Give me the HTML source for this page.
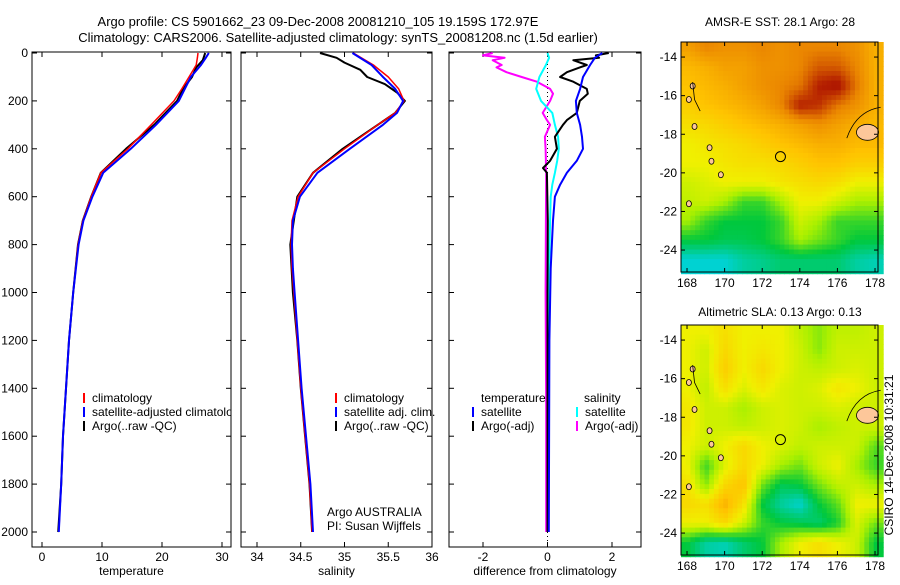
<!DOCTYPE html>
<html><head><meta charset="utf-8"><style>
html,body{margin:0;padding:0;background:#fff;}
svg text{font-family:"Liberation Sans",sans-serif;font-size:12px;fill:#000;}
</style></head><body>
<svg id="fig" width="900" height="580" viewBox="0 0 900 580" xmlns="http://www.w3.org/2000/svg">
<text x="318" y="26" text-anchor="middle" style="font-size:13px">Argo profile: CS 5901662_23 09-Dec-2008 20081210_105 19.159S 172.97E</text>
<text x="338" y="42" text-anchor="middle" style="font-size:13px">Climatology: CARS2006. Satellite-adjusted climatology: synTS_20081208.nc (1.5d earlier)</text>
<text x="780" y="26" text-anchor="middle">AMSR-E SST: 28.1 Argo: 28</text>
<text x="780" y="316" text-anchor="middle">Altimetric SLA: 0.13 Argo: 0.13</text>
<text transform="translate(893,455) rotate(-90)" text-anchor="middle">CSIRO 14-Dec-2008 10:31:21</text>
<g id="plots"></g>
</svg>
<script>
// ---- depth (shared y) ----
const depthTicks=[0,200,400,600,800,1000,1200,1400,1600,1800,2000];
// ---- temperature panel ----
const tDepth=[0,20,50,100,150,200,300,400,500,600,700,800,1000,1200,1400,1600,1800,2000];
const tClim=[26,25.9,25.7,24.5,23.3,22,18.2,14.3,9.8,8.2,6.8,6,5.2,4.5,4,3.5,3.2,2.8];
const tSat=[27.8,27.3,26.5,24.8,23.8,22.8,19,14.8,10.2,8.4,6.9,6.1,5.2,4.5,4,3.5,3.2,2.8];
const tArgoDepth=[0,30,60,100,150,200,300,400,500,600,700,800,1000,1200,1400,1600,1800,2000];
const tArgo=[27.2,26.8,25.7,25,23.5,22.5,18.7,14,9.8,8.2,6.8,6,5.2,4.5,4,3.5,3.2,2.7];
const tTicks=[0,10,20,30];
// ---- salinity panel ----
const sDepth=[0,50,100,150,200,250,300,400,500,600,700,800,900,1000,1200,1400,1600,1800,2000];
const sClim=[35.1,35.33,35.5,35.62,35.68,35.58,35.38,35.0,34.64,34.47,34.4,34.39,34.4,34.42,34.46,34.5,34.55,34.6,34.63];
const sSat=[35.09,35.31,35.44,35.58,35.67,35.6,35.44,35.06,34.69,34.49,34.41,34.4,34.41,34.43,34.47,34.51,34.56,34.61,34.64];
const sArgoDepth=[0,20,40,70,100,130,165,200,250,300,400,500,600,800,1000,1200,1400,1600,1800,2000];
const sArgo=[34.72,34.91,35.0,35.18,35.26,35.46,35.6,35.69,35.58,35.38,34.98,34.64,34.46,34.38,34.41,34.46,34.5,34.55,34.6,34.63];
const sTicks=[34,34.5,35,35.5,36];
// ---- difference panel ----
const dDepth=[0,20,50,100,150,200,250,300,350,400,450,500,550,600,700,900,1200,1600,2000];
const dTempSat=[1.7,1.47,1.32,1.1,1.01,0.88,0.91,1.01,1.07,1.1,0.91,0.6,0.39,0.23,0.17,0.1,0.06,0.05,0.04];
const dSalSat=[0,0.05,-0.05,-0.25,-0.35,-0.2,0.15,0.23,0.33,0.35,0.3,0.23,0.15,0.1,0.08,0.05,0.03,0.02,0.02];
const dArgoDepth=[0,10,20,30,50,60,80,100,120,150,170,200,250,280,300,350,400,450,480,500,700,1000,1500,2000];
const dTempArgo=[1.9,1.5,1.6,0.8,1.22,1.0,0.6,0.39,0.8,1.22,1.25,1.0,0.91,0.6,0.48,0.23,0.29,0.08,-0.14,-0.02,0.01,0,0,0];
const dSalArgo=[-1.7,-2.0,-1.33,-1.7,-1.42,-1.58,-1.27,-0.8,-0.33,0.08,0.17,0.08,-0.15,-0.02,0.08,-0.08,-0.06,-0.05,-0.05,-0.04,-0.05,-0.06,-0.04,-0.04];
const dTicks=[-2,0,2];
// ---- maps (grid values, colour index 0..1; rows lat -13.5..-24.5, cols lon 168..178) ----
const sstGrid=[
[.75,.8,.78,.78,.8,.78,.8,.8,.8,.78,.72],
[.7,.72,.75,.75,.78,.78,.8,.85,.85,.8,.72],
[.68,.7,.72,.75,.78,.8,.82,.92,.95,.82,.72],
[.65,.68,.7,.72,.75,.8,.92,.9,.82,.78,.72],
[.6,.62,.65,.68,.7,.72,.75,.78,.75,.72,.7],
[.55,.58,.6,.62,.65,.68,.7,.72,.72,.7,.7],
[.55,.55,.58,.6,.6,.62,.65,.68,.68,.65,.65],
[.5,.52,.55,.55,.55,.58,.6,.62,.6,.55,.55],
[.48,.5,.45,.35,.35,.45,.55,.55,.5,.45,.45],
[.45,.35,.3,.3,.3,.35,.5,.45,.35,.35,.35],
[.3,.3,.28,.28,.3,.35,.45,.4,.35,.3,.3],
[.15,.15,.15,.2,.22,.25,.25,.25,.25,.2,.18]];
const slaGrid=[
[.55,.55,.6,.55,.55,.55,.48,.42,.48,.48,.5],
[.55,.5,.62,.55,.58,.55,.5,.42,.5,.5,.5],
[.55,.5,.65,.55,.62,.55,.5,.48,.5,.52,.5],
[.55,.48,.6,.52,.58,.52,.5,.52,.58,.55,.5],
[.58,.5,.5,.45,.5,.52,.5,.5,.52,.5,.5],
[.58,.5,.5,.48,.5,.52,.5,.45,.48,.5,.5],
[.55,.5,.55,.62,.55,.52,.48,.5,.5,.5,.38],
[.55,.35,.52,.62,.55,.45,.4,.5,.55,.45,.35],
[.6,.42,.62,.68,.4,.28,.3,.4,.48,.5,.45],
[.62,.6,.72,.6,.3,.2,.15,.3,.38,.55,.55],
[.55,.55,.62,.5,.35,.3,.28,.25,.32,.52,.4],
[.3,.2,.18,.25,.3,.45,.55,.6,.55,.5,.3]];
const lonTicks=[168,170,172,174,176,178];
const latTicks=[-14,-16,-18,-20,-22,-24];
const floatLon=172.97, floatLat=-19.159;

const NS='http://www.w3.org/2000/svg';
const root=document.getElementById('plots');
function el(tag,attrs,parent){const e=document.createElementNS(NS,tag);for(const k in attrs)e.setAttribute(k,attrs[k]);(parent||root).appendChild(e);return e;}
function txt(x,y,s,anchor,parent){const t=el('text',{x:x,y:y,'text-anchor':anchor||'start'},parent);t.textContent=s;return t;}
const yD=d=>53+d*0.2395;
const TOP=52,BOT=547;

function panel(name,x0,x1,xs,ticks,fmt,xlabel,showY){
  const g=el('g',{});
  
  
  el('rect',{x:x0,y:TOP,width:x1-x0,height:BOT-TOP,fill:'none',stroke:'#000','stroke-width':1},g);
  ticks.forEach(v=>{const x=xs(v);
    el('line',{x1:x,x2:x,y1:TOP,y2:TOP+5,stroke:'#000'},g);
    el('line',{x1:x,x2:x,y1:BOT,y2:BOT-5,stroke:'#000'},g);
    const t=txt(x,561,fmt(v),'middle',g);
    
    });
  depthTicks.forEach(d=>{const y=yD(d);
    el('line',{x1:x0,x2:x0+5,y1:y,y2:y,stroke:'#000'},g);
    el('line',{x1:x1,x2:x1-5,y1:y,y2:y,stroke:'#000'},g);
    if(showY){const t=txt(x0-4,y+4,String(d),'end',g);
      
      }});
  const xl=txt((x0+x1)/2,575,xlabel,'middle',g);
  
  
  return g;
}
function line(g,xs,vals,depths,color,w,name){
  const pts=vals.map((v,i)=>xs(v).toFixed(1)+','+yD(depths[i]).toFixed(1)).join(' ');
  const p=el('polyline',{points:pts,fill:'none',stroke:color,'stroke-width':w,'stroke-linejoin':'round'},g);
  
  
}
function legendEntry(g,x,y,color,label,name){
  el('line',{x1:x,x2:x,y1:y-9,y2:y+1,stroke:color,'stroke-width':2},g);
  const t=txt(x+8,y,label,'start',g);
  
  
}

// temperature
const xT=v=>42+v*6;
const gT=panel('temperature-panel',32,231,xT,tTicks,String,'temperature',true);
line(gT,xT,tArgo,tArgoDepth,'#000',2,'argo-temperature-line');
line(gT,xT,tClim,tDepth,'#f00',1.5,'climatology-temperature-line');
line(gT,xT,tSat,tDepth,'#00f',2,'satellite-temperature-line');
const clipT=el('clipPath',{id:'clipT'});el('rect',{x:32,y:52,width:199,height:495},clipT);
const lgT=el('g',{'clip-path':'url(#clipT)'},gT);
legendEntry(lgT,84,402,'#f00','climatology','legend-climatology');
legendEntry(lgT,84,416,'#00f','satellite-adjusted climatology','legend-satellite');
legendEntry(lgT,84,430,'#000','Argo(..raw -QC)','legend-argo');

// salinity
const xS=v=>257+(v-34)*87.5;
const gS=panel('salinity-panel',241,432,xS,sTicks,String,'salinity',false);
line(gS,xS,sArgo,sArgoDepth,'#000',2,'argo-salinity-line');
line(gS,xS,sClim,sDepth,'#f00',1.5,'climatology-salinity-line');
line(gS,xS,sSat,sDepth,'#00f',2,'satellite-salinity-line');
legendEntry(gS,336,402,'#f00','climatology','legend-climatology');
legendEntry(gS,336,416,'#00f','satellite adj. clim.','legend-satellite');
legendEntry(gS,336,430,'#000','Argo(..raw -QC)','legend-argo');
const a1=txt(327,516,'Argo AUSTRALIA','start',gS);
const a2=txt(327,530,'PI: Susan Wijffels','start',gS);

// difference
const xDf=v=>547.5+v*32.25;
const gD=panel('difference-panel',449,641,xDf,dTicks,String,'difference from climatology',false);
el('line',{x1:xDf(0),x2:xDf(0),y1:TOP,y2:BOT,stroke:'#000','stroke-dasharray':'1,3'},gD);
line(gD,xDf,dSalArgo,dArgoDepth,'#f0f',2,'argo-salinity-diff-line');
line(gD,xDf,dSalSat,dDepth,'#0ff',2,'satellite-salinity-diff-line');
line(gD,xDf,dTempArgo,dArgoDepth,'#000',2,'argo-temperature-diff-line');
line(gD,xDf,dTempSat,dDepth,'#00f',2,'satellite-temperature-diff-line');
const h1=txt(481,402,'temperature','start',gD);
const h2=txt(584,402,'salinity','start',gD);
legendEntry(gD,473,416,'#00f','satellite','legend-temp-satellite');
legendEntry(gD,473,430,'#000','Argo(-adj)','legend-temp-argo');
legendEntry(gD,577,416,'#0ff','satellite','legend-sal-satellite');
legendEntry(gD,577,430,'#f0f','Argo(-adj)','legend-sal-argo');

// ---- maps ----
const cstops=[[0,[0,150,255]],[0.15,[0,210,210]],[0.3,[0,200,60]],[0.45,[170,240,0]],[0.55,[240,240,0]],[0.68,[255,195,0]],[0.8,[235,135,0]],[0.92,[180,30,0]],[1,[150,0,0]]];
function cmap(v){v=Math.max(0,Math.min(1,v));for(let i=1;i<cstops.length;i++){if(v<=cstops[i][0]){const a=cstops[i-1],b=cstops[i],t=(v-a[0])/(b[0]-a[0]);return 'rgb('+a[1].map((c,k)=>Math.round(c+(b[1][k]-c)*t)).join(',')+')';}}return 'rgb(150,0,0)';}
function sample(grid,lon,lat){
  let fx=Math.max(0,Math.min(10,lon-168)), fy=Math.max(0,Math.min(11,-13.5-lat));
  const i=Math.min(9,Math.floor(fx)),j=Math.min(10,Math.floor(fy)),tx=fx-i,ty=fy-j;
  return grid[j][i]*(1-tx)*(1-ty)+grid[j][i+1]*tx*(1-ty)+grid[j+1][i]*(1-tx)*ty+grid[j+1][i+1]*tx*ty;
}
function map(name,grid,y0,cell){
  const x0=681,x1=878,y1=y0+230;
  const lonMin=167.68,lonMax=178.15+0.25,latTop=-13.22,latBot=latTop-230/19.3;
  const X=lon=>x0+(lon-lonMin)*18.8, Y=lat=>y0+(latTop-lat)*19.3;
  const g=el('g',{});
  
  
  for(let lat=latTop;lat>latBot-0.001;lat-=cell){
    for(let lon=lonMin;lon<lonMax;lon+=cell){
      const v=sample(grid,lon+cell/2,lat-cell/2);
      const r=el('rect',{x:X(lon).toFixed(1),y:Y(lat).toFixed(1),width:(cell*18.8+0.6).toFixed(1),height:(cell*19.3+0.6).toFixed(1),fill:cmap(v)},g);
    }
  }
  // land (Vanuatu/Fiji approximations)
  el('ellipse',{cx:X(177.6),cy:Y(-17.9),rx:11,ry:8,fill:'#fdc79a',stroke:'#000','stroke-width':0.8},g);
  el('path',{d:`M${X(176.5)} ${Y(-18.2)} Q${X(177)} ${Y(-16.8)} ${X(178.3)} ${Y(-16.6)}`,fill:'none',stroke:'#000','stroke-width':0.8},g);
  [[168.3,-15.5],[168.1,-16.2],[168.4,-17.6],[169.2,-18.7],[169.3,-19.4],[169.8,-20.1],[168.1,-21.6]].forEach(p=>{
    el('ellipse',{cx:X(p[0]),cy:Y(p[1]),rx:2.5,ry:3,fill:'#fdc79a',stroke:'#000','stroke-width':0.8},g);});
  el('path',{d:`M${X(168.3)} ${Y(-15.3)} L${X(168.4)} ${Y(-16.2)} L${X(168.7)} ${Y(-16.8)}`,fill:'none',stroke:'#000','stroke-width':0.8},g);
  const c=el('circle',{cx:X(floatLon),cy:Y(floatLat),r:5,fill:'none',stroke:'#000','stroke-width':1},g);
  
  
  el('rect',{x:x0,y:y0,width:x1-x0,height:y1-y0,fill:'none',stroke:'#000'},g);
  lonTicks.forEach(l=>{const x=X(l);
    el('line',{x1:x,x2:x,y1:y0,y2:y0+4,stroke:'#000'},g);el('line',{x1:x,x2:x,y1:y1,y2:y1-4,stroke:'#000'},g);
    const t=txt(x,y1+15,String(l),'middle',g);});
  latTicks.forEach(l=>{const y=Y(l);
    el('line',{x1:x0,x2:x0+4,y1:y,y2:y,stroke:'#000'},g);el('line',{x1:x1,x2:x1-4,y1:y,y2:y,stroke:'#000'},g);
    const t=txt(x0-4,y+4,String(l),'end',g);});
}
map('sst-map',sstGrid,42,0.25);
map('sla-map',slaGrid,325,0.25);
</script>
</body></html>
